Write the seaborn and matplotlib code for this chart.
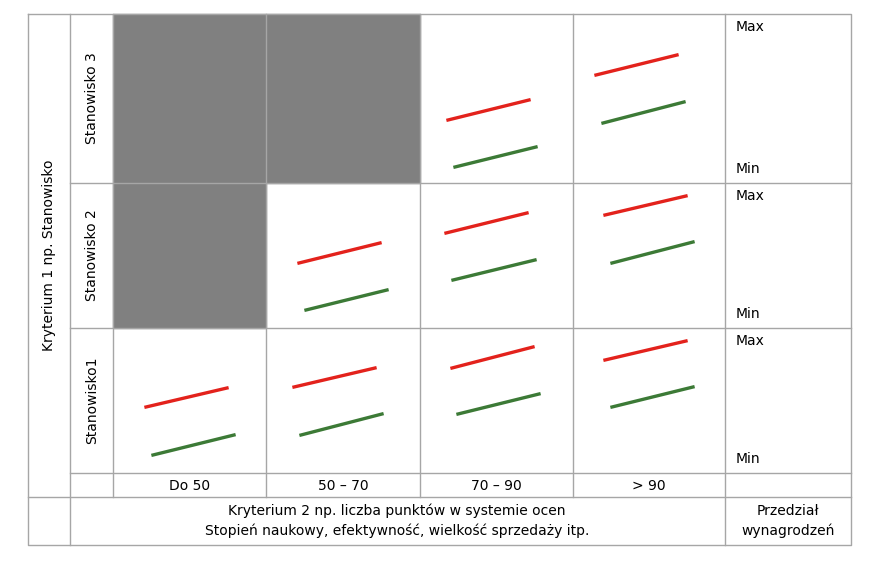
import numpy as np
import pandas as pd
import matplotlib
matplotlib.use("Agg")
import matplotlib.pyplot as plt
import seaborn as sns

# =====================================
# Data
# =====================================
col_labels = ["Do 50", "50 – 70", "70 – 90", "> 90"]
row_labels = ["Stanowisko 3", "Stanowisko 2", "Stanowisko1"]
gray_cells = [(0, 0), (0, 1), (1, 0)]  # (row, col)

# segment start/end in pixels (x0, y0, x1, y1)
red_segs = [
    (448, 120, 529, 100), (596, 75, 677, 55),
    (299, 263, 380, 243), (446, 233, 527, 213), (605, 215, 686, 196),
    (146, 407, 227, 388), (294, 387, 375, 368), (452, 368, 533, 347), (605, 360, 686, 341),
]
green_segs = [
    (455, 167, 536, 147), (603, 123, 684, 102),
    (306, 310, 387, 290), (453, 280, 535, 260), (612, 263, 693, 242),
    (153, 455, 234, 435), (301, 435, 382, 414), (458, 414, 539, 394), (612, 407, 693, 387),
]

# layout
col_x = [113, 266, 420, 573, 725]
row_y = [14, 183, 328, 473]
L, R, T, B = 28, 851, 14, 545

rows = []
for name, segs in [("red", red_segs), ("green", green_segs)]:
    for i, (x0, y0, x1, y1) in enumerate(segs):
        rows.append({"seg": f"{name}{i}", "kind": name, "x": x0, "y": y0})
        rows.append({"seg": f"{name}{i}", "kind": name, "x": x1, "y": y1})
df = pd.DataFrame(rows)

# =====================================
# Plot
# =====================================
fig = plt.figure(figsize=(8.74, 5.72), dpi=100)
ax = fig.add_axes([0, 0, 1, 1])
ax.set_xlim(0, 874)
ax.set_ylim(572, 0)
ax.axis("off")

for r, c in gray_cells:
    ax.add_patch(plt.Rectangle((col_x[c], row_y[r]), col_x[c + 1] - col_x[c],
                               row_y[r + 1] - row_y[r], color="#808080", zorder=0))

lc = "#a6a6a6"
lw = 1.0
# outer box
ax.plot([L, R, R, L, L], [T, T, B, B, T], color=lc, lw=lw)
# verticals
ax.plot([70, 70], [T, B], color=lc, lw=lw)
ax.plot([113, 113], [T, 497], color=lc, lw=lw)
for x in col_x[1:-1]:
    ax.plot([x, x], [T, 497], color=lc, lw=lw)
ax.plot([725, 725], [T, B], color=lc, lw=lw)
# horizontals
for y in row_y[1:]:
    ax.plot([70, R], [y, y], color=lc, lw=lw)
ax.plot([L, R], [497, 497], color=lc, lw=lw)

sns.lineplot(data=df, x="x", y="y", units="seg", hue="kind", estimator=None,
             palette={"red": "#e3221c", "green": "#3c7a36"}, lw=2.4,
             legend=False, ax=ax, sort=False)
ax.set_xlim(0, 874)
ax.set_ylim(572, 0)
ax.axis("off")

fs = 10
for i, lab in enumerate(col_labels):
    ax.text((col_x[i] + col_x[i + 1]) / 2, 486, lab, ha="center", va="center", fontsize=fs)
for i, lab in enumerate(row_labels):
    ax.text(92, (row_y[i] + row_y[i + 1]) / 2, lab, ha="center", va="center",
            rotation=90, fontsize=fs)
    ax.text(736, row_y[i] + 13, "Max", ha="left", va="center", fontsize=fs)
    ax.text(736, row_y[i + 1] - 14, "Min", ha="left", va="center", fontsize=fs)

ax.text(49, 255, "Kryterium 1 np. Stanowisko", ha="center", va="center",
        rotation=90, fontsize=fs)
ax.text(397, 521, "Kryterium 2 np. liczba punktów w systemie ocen\n"
        "Stopień naukowy, efektywność, wielkość sprzedaży itp.",
        ha="center", va="center", fontsize=fs, linespacing=1.5)
ax.text(788, 521, "Przedział\nwynagrodzeń", ha="center", va="center",
        fontsize=fs, linespacing=1.5)

plt.savefig("out.png", dpi=100)
